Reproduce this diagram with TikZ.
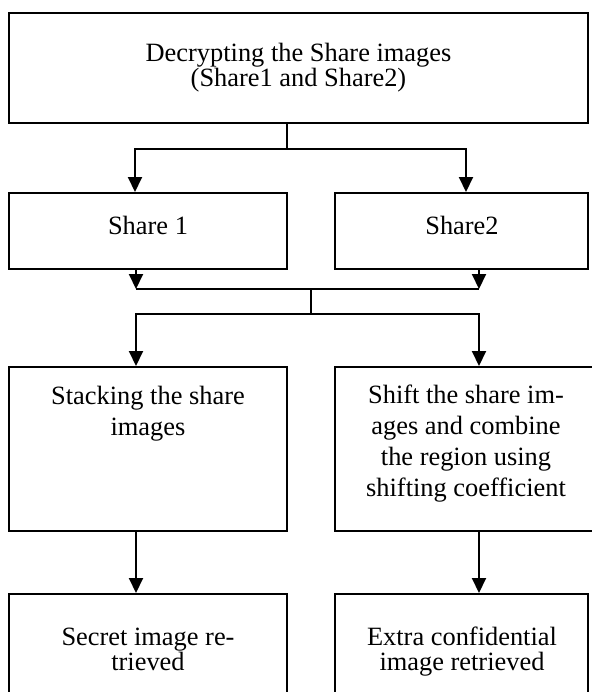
\documentclass[tikz,border=0pt]{standalone}
\usepackage{fontspec}
\setmainfont{Liberation Serif}
\usetikzlibrary{arrows.meta,positioning}

\begin{document}
\begin{tikzpicture}[x=0.5pt, y=-0.5pt,
    box/.style={draw, line width=1pt, rectangle, inner sep=0pt},
    txt/.style={align=center, inner sep=0pt, anchor=base, font=\fontsize{13.2pt}{12.25pt}\selectfont},
    txtwide/.style={txt, font=\fontsize{13.2pt}{15.5pt}\selectfont},
    link/.style={draw, line width=1pt},
    arr/.style={link, -{Triangle[length=7.5pt,width=7pt]}}]
  \useasboundingbox (0,0) rectangle (592,692);
  \clip (0,0) rectangle (592,692);

  % boxes
  \node[box, minimum width=289.5pt, minimum height=55pt] (dec) at (298.5,68) {};
  \node[box, minimum width=139pt, minimum height=38pt] (s1) at (148,231) {};
  \node[box, minimum width=126.5pt, minimum height=38pt] (s2) at (461.5,231) {};
  \node[box, minimum width=139pt, minimum height=82pt] (stack) at (148,449) {};
  \node[box, minimum width=131pt, minimum height=82pt] (shift) at (466,449) {};
  \node[box, minimum width=139pt, minimum height=68pt] (secret) at (148,662) {};
  \node[box, minimum width=126.5pt, minimum height=68pt] (extra) at (461.5,662) {};

  % texts (anchored at the last line's baseline)
  \node[txt] (decT) at (298.5,86) {Decrypting the Share images\\(Share1 and Share2)};
  \node[txt] (s1T) at (148,234) {Share 1};
  \node[txt] (s2T) at (462,234) {Share2};
  \node[txtwide] (stackT) at (148,435) {Stacking the share\\images};
  \node[txtwide] (shiftT) at (466,496) {Shift the share im-\\ages and combine\\the region using\\shifting coefficient};
  \node[txt] (secretT) at (148,670) {Secret image re-\\trieved};
  \node[txt] (extraT) at (462,670) {Extra confidential\\image retrieved};

  % junctions
  \coordinate (t) at (287,149);
  \coordinate (tl) at (135,149);
  \coordinate (tr) at (466,149);
  \coordinate (ml) at (136,289);
  \coordinate (mr) at (479,289);
  \coordinate (mc) at (311,289);
  \coordinate (nc) at (311,314);
  \coordinate (nl) at (136,314);
  \coordinate (nr) at (479,314);

  % connectors
  \draw[link] (dec.south -| t) -- (t);
  \draw[arr] (t) -- (tl) -- (tl |- s1.north);
  \draw[arr] (t) -- (tr) -- (tr |- s2.north);
  \draw[arr] (ml |- s1.south) -- (ml);
  \draw[arr] (mr |- s2.south) -- (mr);
  \draw[link] (ml) -- (mr);
  \draw[link] (mc) -- (nc);
  \draw[arr] (nc) -- (nl) -- (nl |- stack.north);
  \draw[arr] (nc) -- (nr) -- (nr |- shift.north);
  \draw[arr] (nl |- stack.south) -- (nl |- secret.north);
  \draw[arr] (nr |- shift.south) -- (nr |- extra.north);
\end{tikzpicture}
\end{document}
